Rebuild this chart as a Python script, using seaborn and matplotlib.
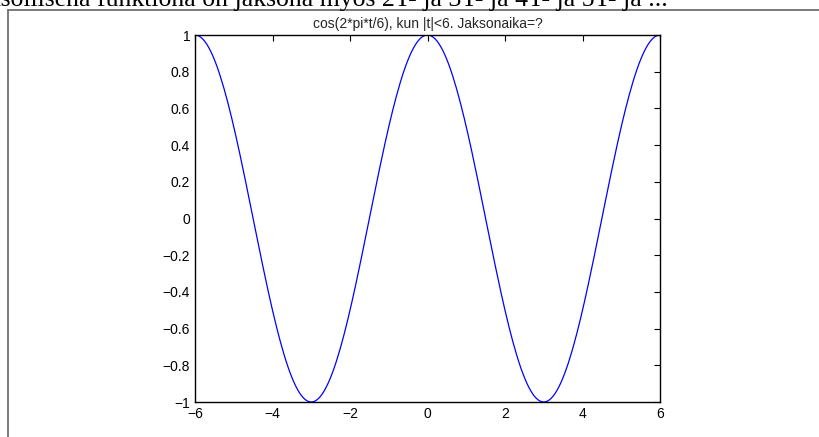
import numpy as np
import pandas as pd
import matplotlib
matplotlib.use("Agg")
import matplotlib.pyplot as plt
from matplotlib.lines import Line2D
import seaborn as sns

# Signal definition: cos(2*pi*t/period) on |t| < 6
period = 6.0
t_min, t_max = -6.0, 6.0
n_samples = 241
title_text = "cos(2*pi*t/6), kun |t|<6. Jaksonaika=?"
x_ticks = [-6, -4, -2, 0, 2, 4, 6]
y_ticks = [-1, -0.8, -0.6, -0.4, -0.2, 0, 0.2, 0.4, 0.6, 0.8, 1]
header_text = "jaksollisena funktiona on jaksona myös 2T- ja 3T- ja 4T- ja 5T- ja ..."

t = np.linspace(t_min, t_max, n_samples)
y = np.cos(2 * np.pi * t / period)
df = pd.DataFrame({"t": t, "y": y})

sns.set_style("white")
plt.rcParams["font.family"] = ["Liberation Sans", "DejaVu Sans"]

W, H = 819, 437
fig = plt.figure(figsize=(W / 100, H / 100), dpi=100)
fig.patch.set_facecolor("white")

# axes placement in pixels
ax_l, ax_t, ax_r, ax_b = 195, 35, 660, 402
ax = fig.add_axes([ax_l / W, 1 - ax_b / H, (ax_r - ax_l) / W, (ax_b - ax_t) / H])

sns.lineplot(data=df, x="t", y="y", ax=ax, color="#0000ff", linewidth=0.9)

ax.set_xlim(t_min, t_max)
ax.set_ylim(-1, 1)
ax.set_xticks(x_ticks)
ax.set_yticks(y_ticks)


def fmt(v):
    s = ("%g" % v)
    return s.replace("-", "\u2212")


ax.set_xticklabels([fmt(v) for v in x_ticks])
ax.set_yticklabels([fmt(v) for v in y_ticks])
ax.set_xlabel("")
ax.set_ylabel("")
ax.tick_params(direction="in", length=4.5, width=0.8, top=True, right=True,
               labelsize=10, colors="black", pad=3.5)
for s in ax.spines.values():
    s.set_visible(True)
    s.set_color("black")
    s.set_linewidth(1.0)
ax.set_title(title_text, fontsize=10, pad=5)

# page frame around the figure
fy = 1 - 9.5 / H
fx = 7.5 / W
fig.add_artist(Line2D([fx, 1.0], [fy, fy], transform=fig.transFigure,
                      color="#707070", linewidth=1.3))
fig.add_artist(Line2D([fx, fx], [0.0, fy], transform=fig.transFigure,
                      color="#707070", linewidth=1.3))

# running text above the frame (partly outside the page)
fig.text(-30 / W, 1 - 6 / H, header_text, family=["Liberation Serif", "DejaVu Serif"],
         fontsize=18.5, ha="left", va="baseline", color="black")

fig.savefig("out.png", dpi=100, facecolor="white")
